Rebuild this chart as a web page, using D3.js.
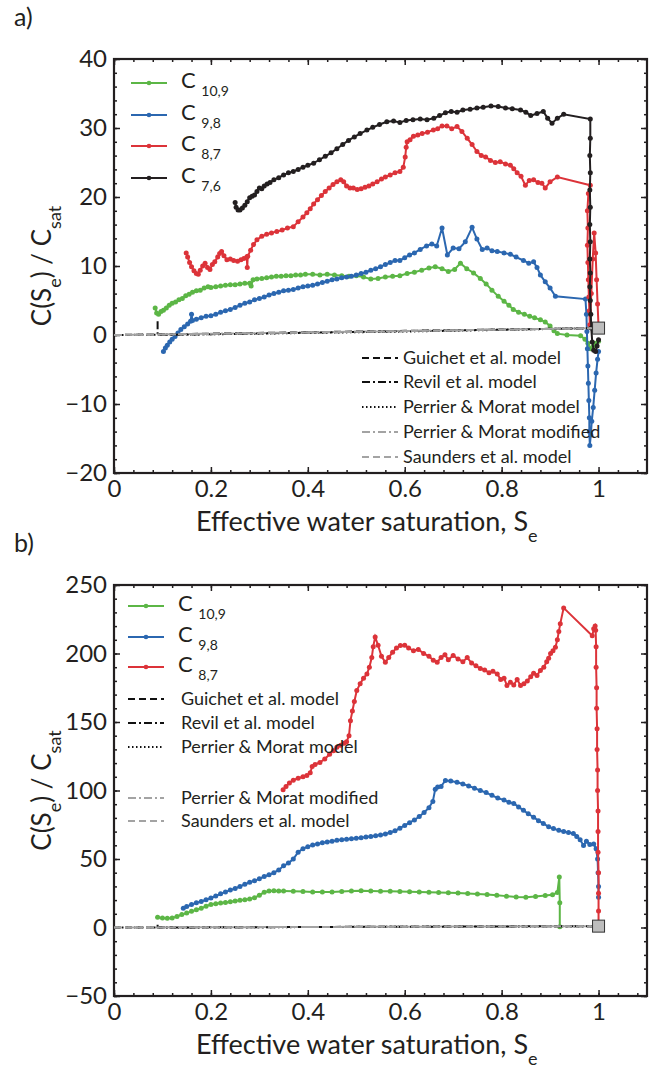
<!DOCTYPE html>
<html>
<head>
<meta charset="utf-8">
<script src="https://cdn.jsdelivr.net/npm/d3@7/dist/d3.min.js"></script>
<style>
  body { margin: 0; background: #fff; }
  svg { display: block; font-family: Lato, "Noto Sans", sans-serif; }
</style>
</head>
<body>
<svg id="fig" width="656" height="1069"></svg>
<script>
const width = 656;
const height = 1069;

// tick labels
const xTicks = [0, 0.2, 0.4, 0.6, 0.8, 1];
const yTicksA = [-20, -10, 0, 10, 20, 30, 40];
const yTicksB = [-50, 0, 50, 100, 150, 200, 250];

// panel a) series, [Se, C/Csat]
const a_c109 = [[0.085,3.9],[0.088,3.2],[0.092,3.0],[0.097,3.4],[0.102,3.6],[0.108,3.9],[0.114,4.3],[0.12,4.6],[0.127,4.8],[0.134,5.1],[0.141,5.3],[0.148,5.7],[0.155,5.9],[0.162,6.2],[0.17,6.4],[0.178,6.5],[0.186,6.8],[0.194,7.0],[0.2,6.9],[0.21,7.0],[0.22,7.1],[0.23,7.2],[0.24,7.3],[0.25,7.3],[0.26,7.4],[0.27,7.5],[0.28,7.5],[0.283,7.1],[0.287,8.0],[0.295,8.1],[0.305,8.2],[0.315,8.3],[0.325,8.4],[0.335,8.5],[0.345,8.5],[0.355,8.6],[0.365,8.6],[0.375,8.7],[0.385,8.7],[0.395,8.8],[0.41,8.8],[0.425,8.7],[0.44,8.8],[0.455,8.7],[0.47,8.6],[0.485,8.5],[0.5,8.6],[0.515,8.4],[0.53,8.1],[0.545,8.2],[0.56,8.4],[0.575,8.5],[0.59,8.6],[0.605,8.9],[0.62,9.1],[0.635,9.4],[0.65,9.7],[0.663,9.9],[0.677,9.6],[0.69,9.2],[0.703,9.5],[0.715,10.4],[0.728,9.6],[0.742,9.0],[0.756,8.2],[0.768,7.4],[0.78,6.5],[0.793,5.6],[0.805,4.9],[0.815,4.3],[0.824,3.7],[0.835,3.3],[0.847,3.0],[0.858,2.7],[0.868,2.5],[0.88,2.2],[0.89,1.9],[0.9,1.3],[0.908,0.6],[0.915,0.2],[0.935,0.0],[0.963,-0.1],[0.972,-0.6],[0.978,-1.2],[0.983,-2.0],[0.988,-1.7],[0.993,-1.2],[1.0,-0.9]];

const a_c98 = [[0.102,-2.4],[0.106,-1.9],[0.11,-1.5],[0.115,-1.0],[0.12,-0.6],[0.126,-0.2],[0.132,0.3],[0.138,0.8],[0.145,1.2],[0.152,1.6],[0.158,2.0],[0.16,3.0],[0.162,2.1],[0.17,2.3],[0.18,2.5],[0.19,2.7],[0.2,2.8],[0.21,3.0],[0.22,3.3],[0.23,3.5],[0.24,3.7],[0.25,4.0],[0.26,4.3],[0.27,4.6],[0.28,4.8],[0.29,5.1],[0.3,5.3],[0.31,5.5],[0.32,5.8],[0.33,6.0],[0.34,6.2],[0.35,6.4],[0.36,6.5],[0.37,6.6],[0.38,6.8],[0.39,7.0],[0.4,7.1],[0.41,7.2],[0.42,7.4],[0.43,7.6],[0.44,7.8],[0.45,8.0],[0.46,8.1],[0.47,8.3],[0.48,8.4],[0.49,8.5],[0.5,8.7],[0.51,8.9],[0.52,9.1],[0.53,9.4],[0.54,9.6],[0.55,9.9],[0.56,10.2],[0.57,10.5],[0.58,10.8],[0.59,10.8],[0.6,11.2],[0.61,11.6],[0.62,11.9],[0.632,12.4],[0.645,12.9],[0.656,13.2],[0.666,12.9],[0.677,15.5],[0.688,11.6],[0.7,12.6],[0.712,12.5],[0.725,13.5],[0.739,15.6],[0.749,13.9],[0.76,12.4],[0.77,12.6],[0.78,12.2],[0.791,12.1],[0.805,11.9],[0.818,11.7],[0.83,11.3],[0.845,10.8],[0.856,10.4],[0.866,10.6],[0.873,9.8],[0.88,8.7],[0.89,7.7],[0.9,6.8],[0.911,5.6],[0.973,5.2],[0.975,3.0],[0.976,0.5],[0.977,-2.0],[0.978,-4.5],[0.979,-7.0],[0.98,-9.5],[0.981,-12.0],[0.981,-14.0],[0.982,-16.0],[0.984,-14.5],[0.986,-12.5],[0.989,-10.5],[0.992,-8.0],[0.995,-5.5],[0.998,-3.5],[1.0,-2.4]];

const a_c87 = [[0.149,11.9],[0.152,11.3],[0.156,10.5],[0.16,9.9],[0.165,9.3],[0.17,8.9],[0.174,8.8],[0.178,9.4],[0.183,10.0],[0.188,10.4],[0.193,9.8],[0.198,9.5],[0.203,10.2],[0.208,10.6],[0.214,11.3],[0.218,11.8],[0.222,12.1],[0.227,11.5],[0.233,10.9],[0.24,11.0],[0.247,10.8],[0.255,10.7],[0.262,10.9],[0.268,11.1],[0.274,11.3],[0.275,9.8],[0.276,11.4],[0.282,12.3],[0.288,13.1],[0.295,13.8],[0.305,14.3],[0.315,14.6],[0.325,14.8],[0.336,15.0],[0.347,15.2],[0.358,15.5],[0.37,15.7],[0.38,16.4],[0.39,17.1],[0.398,17.7],[0.405,18.3],[0.412,19.0],[0.42,19.6],[0.428,20.2],[0.436,20.8],[0.444,21.3],[0.452,21.8],[0.46,22.2],[0.468,22.5],[0.474,22.2],[0.48,21.6],[0.487,21.3],[0.494,21.3],[0.502,21.1],[0.51,21.2],[0.518,21.4],[0.526,21.6],[0.534,21.9],[0.543,22.2],[0.552,22.6],[0.56,22.9],[0.57,23.2],[0.58,23.5],[0.59,23.7],[0.597,24.3],[0.601,25.8],[0.603,27.2],[0.605,28.0],[0.611,28.3],[0.618,28.8],[0.627,29.0],[0.636,29.2],[0.647,29.4],[0.659,29.7],[0.668,29.9],[0.677,30.3],[0.687,30.3],[0.697,29.9],[0.708,30.2],[0.718,29.5],[0.729,28.5],[0.739,27.6],[0.749,26.6],[0.758,26.0],[0.767,25.8],[0.777,25.3],[0.787,25.0],[0.797,25.1],[0.808,24.8],[0.818,24.6],[0.825,24.1],[0.832,23.5],[0.84,23.0],[0.849,21.7],[0.857,22.4],[0.866,22.5],[0.875,22.1],[0.883,22.0],[0.89,21.3],[0.9,22.2],[0.915,22.9],[0.983,21.7],[0.979,20.5],[0.977,18.0],[0.978,15.5],[0.977,13.0],[0.978,10.5],[0.979,8.0],[0.98,5.5],[0.981,3.5],[0.982,1.5],[0.985,6.0],[0.988,11.0],[0.991,14.8],[0.994,11.9],[0.996,8.0],[0.998,4.5],[1.0,1.2]];

const a_c76 = [[0.25,19.2],[0.252,18.5],[0.256,18.1],[0.26,18.1],[0.265,18.4],[0.27,18.8],[0.275,19.3],[0.28,19.9],[0.285,20.1],[0.29,20.3],[0.295,20.8],[0.3,21.3],[0.305,21.2],[0.31,21.6],[0.316,21.9],[0.322,22.1],[0.33,22.5],[0.34,22.8],[0.35,23.2],[0.36,23.5],[0.37,23.7],[0.38,24.0],[0.39,24.3],[0.4,24.6],[0.412,24.9],[0.424,25.4],[0.436,25.9],[0.448,26.4],[0.46,27.0],[0.472,27.6],[0.484,28.2],[0.496,28.7],[0.508,29.2],[0.522,29.7],[0.534,30.1],[0.548,30.5],[0.563,30.9],[0.577,31.0],[0.59,30.8],[0.603,31.1],[0.617,31.2],[0.632,31.3],[0.646,31.2],[0.66,31.4],[0.672,31.8],[0.684,32.2],[0.696,32.4],[0.708,32.3],[0.72,32.6],[0.735,32.7],[0.749,32.9],[0.762,33.0],[0.778,33.2],[0.793,33.1],[0.808,32.9],[0.822,32.8],[0.839,32.6],[0.85,32.3],[0.86,31.8],[0.873,32.1],[0.886,32.4],[0.895,31.4],[0.904,30.7],[0.915,31.4],[0.928,32.0],[0.983,31.3],[0.983,28.5],[0.982,26.0],[0.983,23.5],[0.982,21.0],[0.983,18.5],[0.982,16.0],[0.983,13.5],[0.982,11.0],[0.983,9.0],[0.982,7.0],[0.983,5.0],[0.984,3.0],[0.985,1.0],[0.987,-1.0],[0.99,-2.2],[0.994,-2.4],[0.997,-1.6],[1.0,-0.7]];

// panel b) series
const b_c109 = [[0.09,7.5],[0.1,7.0],[0.11,6.8],[0.12,7.0],[0.13,8.0],[0.14,9.5],[0.15,10.5],[0.16,11.8],[0.17,13.0],[0.18,14.0],[0.19,15.6],[0.2,16.8],[0.21,17.3],[0.22,17.8],[0.23,18.3],[0.24,18.8],[0.25,19.3],[0.26,19.8],[0.27,20.3],[0.28,20.8],[0.29,21.8],[0.3,23.5],[0.31,25.8],[0.32,26.6],[0.33,26.8],[0.34,26.7],[0.35,26.6],[0.37,26.4],[0.39,26.2],[0.41,26.0],[0.43,25.9],[0.45,26.0],[0.47,26.3],[0.49,26.7],[0.51,26.8],[0.53,26.6],[0.55,26.5],[0.57,26.4],[0.59,26.3],[0.61,26.1],[0.63,26.0],[0.65,25.8],[0.67,25.6],[0.69,25.4],[0.71,25.1],[0.73,24.8],[0.75,24.4],[0.77,24.0],[0.79,23.5],[0.81,22.9],[0.83,22.2],[0.85,22.0],[0.87,22.6],[0.89,23.4],[0.905,23.9],[0.915,25.5],[0.919,36.8],[0.92,18.0],[0.92,0.5]];

const b_c98 = [[0.143,14.0],[0.15,15.3],[0.16,16.8],[0.17,18.0],[0.18,19.0],[0.19,20.3],[0.2,21.5],[0.21,23.0],[0.22,24.6],[0.23,26.0],[0.24,27.3],[0.25,28.5],[0.26,30.0],[0.27,31.5],[0.28,33.0],[0.29,34.2],[0.3,35.5],[0.31,37.2],[0.32,38.5],[0.33,40.0],[0.34,42.0],[0.35,45.0],[0.36,47.0],[0.37,50.0],[0.38,55.0],[0.39,57.5],[0.4,59.0],[0.41,60.3],[0.42,61.0],[0.43,61.8],[0.44,62.5],[0.45,63.0],[0.46,63.6],[0.47,64.0],[0.48,64.4],[0.49,64.8],[0.5,65.2],[0.51,65.6],[0.52,66.0],[0.53,66.5],[0.54,67.0],[0.55,67.6],[0.56,68.3],[0.57,69.3],[0.58,70.6],[0.59,72.5],[0.6,74.5],[0.61,76.5],[0.62,78.5],[0.63,81.0],[0.64,84.0],[0.65,87.5],[0.658,92.0],[0.663,101.0],[0.668,102.5],[0.675,103.0],[0.684,107.3],[0.695,107.0],[0.708,106.0],[0.72,104.8],[0.732,103.3],[0.744,101.7],[0.756,100.0],[0.768,98.5],[0.78,96.5],[0.792,94.5],[0.805,93.0],[0.815,91.5],[0.825,90.5],[0.835,88.0],[0.845,85.5],[0.855,83.0],[0.866,80.5],[0.876,78.0],[0.886,76.0],[0.897,73.5],[0.907,72.2],[0.918,71.0],[0.928,70.0],[0.938,69.3],[0.948,68.6],[0.955,66.5],[0.962,64.0],[0.969,59.9],[0.975,63.0],[0.982,60.5],[0.99,61.0],[0.995,57.5],[0.998,50.0],[0.999,40.0],[1.0,30.0],[1.0,22.0]];

const b_c87 = [[0.349,100.5],[0.355,103.0],[0.362,105.5],[0.37,107.5],[0.38,109.0],[0.39,110.0],[0.398,111.0],[0.405,113.0],[0.409,117.5],[0.415,119.0],[0.425,120.5],[0.435,123.0],[0.445,126.5],[0.453,129.0],[0.46,131.5],[0.468,133.0],[0.475,134.5],[0.48,135.5],[0.485,140.0],[0.488,151.0],[0.492,158.0],[0.496,165.0],[0.501,173.0],[0.508,178.0],[0.515,182.0],[0.522,185.0],[0.527,190.0],[0.532,197.0],[0.535,205.0],[0.539,212.0],[0.545,206.0],[0.552,198.0],[0.56,193.6],[0.567,197.0],[0.575,201.0],[0.583,204.0],[0.591,205.8],[0.6,206.0],[0.608,204.0],[0.618,202.0],[0.628,203.0],[0.639,200.0],[0.65,198.0],[0.659,195.0],[0.667,193.7],[0.675,197.0],[0.683,199.0],[0.69,195.5],[0.7,198.5],[0.71,196.0],[0.72,194.0],[0.729,197.0],[0.738,193.0],[0.747,191.0],[0.756,189.0],[0.765,188.0],[0.774,186.0],[0.782,187.0],[0.791,185.0],[0.798,181.0],[0.805,182.0],[0.811,176.6],[0.818,179.0],[0.825,177.0],[0.832,181.0],[0.839,176.6],[0.846,178.0],[0.853,180.0],[0.86,183.0],[0.866,185.5],[0.873,184.0],[0.88,187.6],[0.887,190.0],[0.893,194.0],[0.897,196.5],[0.901,200.0],[0.906,202.0],[0.911,204.6],[0.915,210.0],[0.918,216.0],[0.921,221.8],[0.928,233.3],[0.987,213.0],[0.99,218.0],[0.993,220.0],[0.994,217.0],[0.995,205.0],[0.995,190.0],[0.996,175.0],[0.996,160.0],[0.997,145.0],[0.997,130.0],[0.998,115.0],[0.998,100.0],[0.999,85.0],[0.999,70.0],[0.999,55.0],[1.0,40.0],[1.0,25.0],[1.0,12.0],[1.0,3.0]];

// model curves (normalised, same in both panels)
const guichet = [[0,0],[0.2,0.2],[0.4,0.4],[0.6,0.6],[0.8,0.8],[1,1]];
const revil = [[0.09,2.0],[0.09,0.0],[0.2,0.12],[0.4,0.35],[0.6,0.57],[0.8,0.79],[1,1]];
const perrier = [[0,0],[0.2,0.1],[0.4,0.3],[0.6,0.5],[0.8,0.74],[1,1]];
const perrierMod = [[0,0],[0.2,0.18],[0.4,0.38],[0.6,0.58],[0.8,0.79],[1,1]];
const saunders = [[0,0],[0.2,0.16],[0.4,0.36],[0.6,0.56],[0.8,0.77],[1,1]];
const satPoint = [[1, 1]];

const colors = { c109: "#5cb646", c98: "#2b67b0", c87: "#dc3339", c76: "#231f20" };

const models = [
    { name: "Guichet et al. model", data: guichet, color: "#111", dash: "7,4" },
    { name: "Revil et al. model", data: revil, color: "#111", dash: "8,3,2,3" },
    { name: "Perrier & Morat model", data: perrier, color: "#111", dash: "1.5,2.5" },
    { name: "Perrier & Morat modified", data: perrierMod, color: "#a3a3a3", dash: "8,3,2,3" },
    { name: "Saunders et al. model", data: saunders, color: "#a3a3a3", dash: "7,4" }
];

const svg = d3.select("#fig");
const ink = "#231f20";

function drawPanel(p) {
    const g = svg.append("g");
    const x = d3.scaleLinear().domain([0, 1.1]).range([p.left, p.right]);
    const y = d3.scaleLinear().domain(p.yDomain).range([p.bottom, p.top]);

    // minor ticks
    const xMinor = d3.range(0, 1.1, 0.04);
    const yMinor = d3.range(p.yDomain[0], p.yDomain[1] + 1e-9, p.yMinorStep);
    const minor = [
        [d3.axisBottom(x).tickValues(xMinor), `translate(0,${p.bottom})`],
        [d3.axisTop(x).tickValues(xMinor), `translate(0,${p.top})`],
        [d3.axisLeft(y).tickValues(yMinor), `translate(${p.left},0)`],
        [d3.axisRight(y).tickValues(yMinor), `translate(${p.right},0)`]
    ];
    minor.forEach(([ax, tr]) => {
        g.append("g").attr("transform", tr)
            .call(ax.tickSize(-3).tickSizeOuter(0).tickFormat(""))
            .call(s => s.select(".domain").remove())
            .selectAll("line").attr("stroke", ink).attr("stroke-width", 1.5);
    });

    // major ticks with labels
    g.append("g").attr("transform", `translate(0,${p.bottom})`)
        .call(d3.axisBottom(x).tickValues(xTicks).tickSize(-6).tickSizeOuter(0).tickPadding(7).tickFormat(d3.format("~g")))
        .call(s => s.select(".domain").remove())
        .call(s => s.selectAll("line").attr("stroke", ink).attr("stroke-width", 1.5))
        .call(s => s.selectAll("text").attr("font-size", 24).attr("fill", ink).attr("font-family", "Lato, sans-serif"));
    g.append("g").attr("transform", `translate(0,${p.top})`)
        .call(d3.axisTop(x).tickValues(xTicks).tickSize(-6).tickSizeOuter(0).tickFormat(""))
        .call(s => s.select(".domain").remove())
        .selectAll("line").attr("stroke", ink).attr("stroke-width", 1.5);
    g.append("g").attr("transform", `translate(${p.left},0)`)
        .call(d3.axisLeft(y).tickValues(p.yTicks).tickSize(-6).tickSizeOuter(0).tickPadding(7))
        .call(s => s.select(".domain").remove())
        .call(s => s.selectAll("line").attr("stroke", ink).attr("stroke-width", 1.5))
        .call(s => s.selectAll("text").attr("font-size", 24).attr("fill", ink).attr("font-family", "Lato, sans-serif"));
    g.append("g").attr("transform", `translate(${p.right},0)`)
        .call(d3.axisRight(y).tickValues(p.yTicks).tickSize(-6).tickSizeOuter(0).tickFormat(""))
        .call(s => s.select(".domain").remove())
        .selectAll("line").attr("stroke", ink).attr("stroke-width", 1.5);

    // box
    g.append("rect")
        .attr("x", p.left).attr("y", p.top)
        .attr("width", p.right - p.left).attr("height", p.bottom - p.top)
        .attr("fill", "none").attr("stroke", ink).attr("stroke-width", 2.2);

    const line = d3.line().x(d => x(d[0])).y(d => y(d[1]));

    // measured series
    p.series.forEach(s => {
        g.append("path").datum(s.data)
            .attr("d", line).attr("fill", "none")
            .attr("stroke", s.color).attr("stroke-width", 2);
        g.append("g").selectAll("circle").data(s.data).enter()
            .append("circle")
            .attr("cx", d => x(d[0])).attr("cy", d => y(d[1]))
            .attr("r", 2.5).attr("fill", s.color);
    });

    // model curves
    models.forEach(m => {
        g.append("path").datum(m.data)
            .attr("d", line).attr("fill", "none")
            .attr("stroke", m.color).attr("stroke-width", 2)
            .attr("stroke-dasharray", m.dash);
    });

    // saturated value
    g.selectAll(".sat").data(satPoint).enter().append("rect")
        .attr("x", d => x(d[0]) - 6).attr("y", d => y(d[1]) - 6)
        .attr("width", 12).attr("height", 12)
        .attr("fill", "#bdbdbd").attr("stroke", "#333").attr("stroke-width", 1);

    // legend: measured
    p.series.forEach((s, i) => {
        const ly = p.legY[i];
        g.append("line").attr("x1", p.legX).attr("x2", p.legX + 36).attr("y1", ly).attr("y2", ly)
            .attr("stroke", s.color).attr("stroke-width", 2);
        g.append("circle").attr("cx", p.legX + 18).attr("cy", ly).attr("r", 2.3).attr("fill", s.color);
        const t = g.append("text").attr("x", p.legX + 50).attr("y", ly + 5)
            .attr("font-size", 22).attr("fill", ink);
        t.append("tspan").text("C ");
        t.append("tspan").attr("font-size", 14).attr("dy", 8).text(s.sub);
    });

    // legend: models
    models.forEach((m, i) => {
        const ly = p.modY[i];
        g.append("line").attr("x1", p.modX).attr("x2", p.modX + 36).attr("y1", ly).attr("y2", ly)
            .attr("stroke", m.color).attr("stroke-width", 2).attr("stroke-dasharray", m.dash);
        g.append("text").attr("x", p.modX + p.modDx).attr("y", ly + 6)
            .attr("font-size", 18).attr("fill", ink).text(m.name);
    });

    // axis labels
    const xl = g.append("text").attr("x", 196).attr("y", p.bottom + 58)
        .attr("font-size", 27).attr("fill", ink);
    xl.append("tspan").text("Effective water saturation, S");
    xl.append("tspan").attr("font-size", 18).attr("dy", 11).text("e");

    const cy = (p.top + p.bottom) / 2;
    const yl = g.append("text").attr("transform", `translate(51,${cy}) rotate(-90)`)
        .attr("text-anchor", "middle").attr("font-size", 26).attr("fill", ink);
    yl.append("tspan").text("C(S");
    yl.append("tspan").attr("font-size", 18).attr("dy", 10).text("e");
    yl.append("tspan").attr("dy", -10).text(") / C");
    yl.append("tspan").attr("font-size", 18).attr("dy", 10).text("sat");

    svg.append("text").attr("x", 14).attr("y", p.top - 33)
        .attr("font-size", 25).attr("fill", ink).text(p.label);
}

drawPanel({
    label: "a)", left: 114, right: 647, top: 59, bottom: 473,
    yDomain: [-20, 40], yTicks: yTicksA, yMinorStep: 2,
    series: [
        { data: a_c109, color: colors.c109, sub: "10,9" },
        { data: a_c98, color: colors.c98, sub: "9,8" },
        { data: a_c87, color: colors.c87, sub: "8,7" },
        { data: a_c76, color: colors.c76, sub: "7,6" }
    ],
    legX: 131, legY: [83, 115, 146, 178],
    modX: 362, modDx: 41, modY: [358, 382, 407, 432, 457]
});

drawPanel({
    label: "b)", left: 114, right: 647, top: 585, bottom: 996,
    yDomain: [-50, 250], yTicks: yTicksB, yMinorStep: 10,
    series: [
        { data: b_c109, color: colors.c109, sub: "10,9" },
        { data: b_c98, color: colors.c98, sub: "9,8" },
        { data: b_c87, color: colors.c87, sub: "8,7" }
    ],
    legX: 128, legY: [606, 637, 667],
    modX: 128, modDx: 53, modY: [699, 723, 747, 798, 821]
});
</script>
</body>
</html>
